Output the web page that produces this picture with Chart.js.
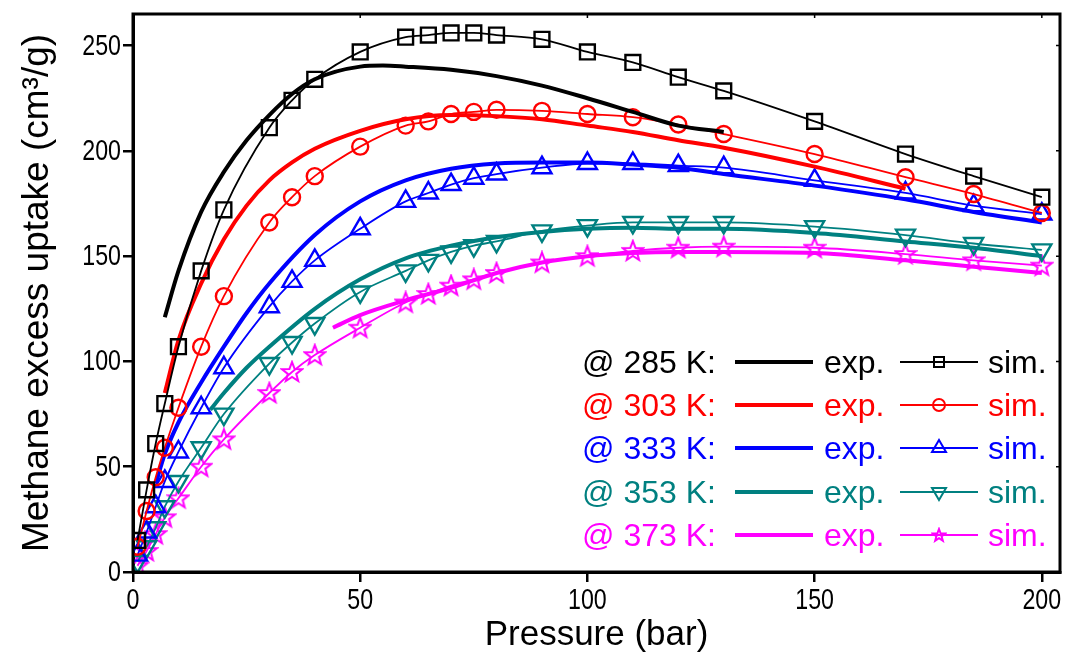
<!DOCTYPE html>
<html>
<head>
<meta charset="utf-8">
<script src="https://cdn.jsdelivr.net/npm/chart.js@4.4.0/dist/chart.umd.min.js"></script>
<style>
  body { margin: 0; background: #fff; }
  #wrap { width: 1070px; height: 653px; }
</style>
</head>
<body>
<div id="wrap"><canvas id="uptake-chart" width="1070" height="653"></canvas></div>
<script>
// ------------------------------------------------------
// @Data
// ------------------------------------------------------
const temps = ['285', '303', '333', '353', '373'];
const colors = ['#000000', '#ff0000', '#0000ff', '#008080', '#ff00ff'];

const pSim = [1, 3, 5, 7, 10, 15, 20, 30, 35, 40, 50, 60, 65, 70, 75, 80, 90, 100, 110, 120, 130, 150, 170, 185, 200];
const sim285 = [15, 39, 61, 80, 107, 143, 172, 211, 224, 234, 247, 254, 255, 256, 256, 255, 253, 247, 242, 235, 228.5, 214, 198.5, 188, 178];
const sim303 = [12, 29, 45, 59, 78, 107, 131, 166, 178, 188, 202, 212, 214, 217.5, 218.5, 219.5, 219, 217.5, 216, 212.5, 208, 198.5, 187.5, 179.5, 170.5];
const sim333 = [8, 19, 31, 43, 57, 78, 97, 126, 138, 148, 163, 176, 180, 184, 187, 189, 192, 194, 194, 193, 192, 186, 180, 174, 170];
const sim353 = [5, 12, 21, 31, 43, 59, 75, 99, 109, 118, 133, 143, 148, 152, 155, 157, 162, 164.5, 166, 166, 166, 164, 160, 156, 153];
const sim373 = [3, 10, 18, 26, 35, 50, 63, 85, 95, 103, 116, 128, 132, 136, 139, 142, 147, 150, 152.5, 154, 154.5, 154, 151, 148, 145.5];

const pExp285 = [7, 10, 15, 20, 25, 30, 35, 40, 50, 55, 60, 70, 80, 90, 100, 110, 120, 130];
const exp285 = [121, 143, 171, 190, 205, 217, 227, 234, 240, 240.5, 240, 238.5, 235.5, 231, 225, 218.5, 212, 209];
const pExp303 = [7, 10, 15, 20, 25, 30, 35, 40, 50, 60, 70, 80, 90, 100, 110, 120, 130, 150, 170];
const exp303 = [85, 110, 137, 158, 174, 186, 194.5, 201, 209.5, 215, 217, 216.5, 215, 212, 209, 205, 201.5, 192.5, 182];
const pExp333 = [5, 7, 10, 15, 20, 25, 30, 40, 50, 60, 70, 80, 90, 100, 110, 120, 130, 150, 170, 185, 200];
const exp333 = [42, 56, 71, 90, 107, 123, 137, 160, 176, 186, 191.5, 194, 194.5, 194.5, 193.5, 192, 189, 183.5, 177, 171, 166];
const pExp353 = [17, 20, 25, 30, 40, 50, 60, 70, 80, 90, 100, 110, 120, 130, 150, 170, 185, 200];
const exp353 = [77, 85, 97, 107, 125, 139, 149, 155, 159, 161.5, 163, 163.5, 163, 163, 161, 157, 154, 150];
const pExp373 = [44, 50, 60, 70, 80, 90, 100, 110, 120, 130, 150, 170, 185, 200];
const exp373 = [116, 122, 129, 135, 142, 147, 150, 151.5, 152, 152, 151.5, 148, 145, 142];

const xTicks = [0, 50, 100, 150, 200];
const yTicks = [0, 50, 100, 150, 200, 250];

// ------------------------------------------------------
// @Helpers
// ------------------------------------------------------
function pairs(xs, ys) {
    return xs.map((x, i) => ({ x: x, y: ys[i] }));
}

function starImage(size, color) {
    let c = document.createElement('canvas');
    c.width = size;
    c.height = size;
    let g = c.getContext('2d');
    let r = size / 2 - 1.5, ri = r * 0.42, cx = size / 2, cy = size / 2 + 0.5;
    g.beginPath();
    for (let i = 0; i < 10; i++) {
        let a = -Math.PI / 2 + i * Math.PI / 5;
        let rr = i % 2 ? ri : r;
        g.lineTo(cx + rr * Math.cos(a), cy + rr * Math.sin(a));
    }
    g.closePath();
    g.strokeStyle = color;
    g.lineWidth = 2;
    g.stroke();
    return c;
}

const bigStar = starImage(24, colors[4]);
const smallStar = starImage(16, colors[4]);

const simSets = [sim285, sim303, sim333, sim353, sim373];
const expX = [pExp285, pExp303, pExp333, pExp353, pExp373];
const expSets = [exp285, exp303, exp333, exp353, exp373];
const markers = [
    { style: 'rect', radius: 10.5, rotation: 0 },
    { style: 'circle', radius: 8, rotation: 0 },
    { style: 'triangle', radius: 11, rotation: 0 },
    { style: 'triangle', radius: 11, rotation: 180 },
    { style: bigStar, radius: 12, rotation: 0 }
];

const fontFamily = '"Liberation Sans", Arial, sans-serif';

let datasets = [];
temps.forEach((t, i) => {
    datasets.push({
        label: '@ ' + t + ' K: exp.',
        data: pairs(expX[i], expSets[i]),
        borderColor: colors[i],
        borderWidth: 4,
        pointRadius: 0,
        cubicInterpolationMode: 'monotone',
        fill: false
    });
    datasets.push({
        label: '@ ' + t + ' K: sim.',
        data: pairs(pSim, simSets[i]),
        borderColor: colors[i],
        borderWidth: 1.8,
        pointStyle: markers[i].style,
        pointRadius: markers[i].radius,
        pointRotation: markers[i].rotation,
        pointBorderColor: colors[i],
        pointBackgroundColor: 'rgba(0,0,0,0)',
        pointBorderWidth: 2.4,
        cubicInterpolationMode: 'monotone',
        fill: false
    });
});

// ------------------------------------------------------
// @Plugins: frame, condensed tick labels, in-plot legend table
// ------------------------------------------------------
const framePlugin = {
    id: 'frame',
    afterDraw(chart) {
        const { ctx, chartArea: a } = chart;
        const xs = chart.scales.x, ys = chart.scales.y;
        ctx.save();
        ctx.strokeStyle = '#000';
        ctx.lineWidth = 3;
        ctx.strokeRect(a.left, a.top, a.right - a.left, a.bottom - a.top);
        ctx.lineWidth = 1.5;
        ctx.beginPath();
        xTicks.slice(1).forEach(v => {
            let px = xs.getPixelForValue(v);
            ctx.moveTo(px, a.top);
            ctx.lineTo(px, a.top + 4);
        });
        yTicks.slice(1).forEach(v => {
            let py = ys.getPixelForValue(v);
            ctx.moveTo(a.right, py);
            ctx.lineTo(a.right - 4, py);
        });
        ctx.stroke();
        ctx.restore();
    }
};

// the reference uses a condensed face; squeeze the regular one horizontally
const tickLabels = {
    id: 'tickLabels',
    afterDraw(chart) {
        const ctx = chart.ctx;
        const xs = chart.scales.x, ys = chart.scales.y;
        const squeeze = 0.8;
        ctx.save();
        ctx.fillStyle = '#000';
        ctx.font = '29px ' + fontFamily;
        ctx.textBaseline = 'middle';
        xTicks.forEach(v => {
            let px = xs.getPixelForValue(v);
            ctx.save();
            ctx.translate(px, xs.bottom - 52);
            ctx.scale(squeeze, 1);
            ctx.textAlign = 'center';
            ctx.fillText(String(v), 0, 0);
            ctx.restore();
        });
        yTicks.forEach(v => {
            let py = ys.getPixelForValue(v);
            ctx.save();
            ctx.translate(ys.right - 12, py + 1);
            ctx.scale(squeeze, 1);
            ctx.textAlign = 'right';
            ctx.fillText(String(v), 0, 0);
            ctx.restore();
        });
        ctx.restore();
    }
};

function legendMarker(ctx, i, x, y) {
    ctx.save();
    ctx.strokeStyle = colors[i];
    ctx.lineWidth = 2;
    ctx.beginPath();
    if (i === 0) {
        ctx.rect(x - 5, y - 5, 10, 10);
        ctx.stroke();
    } else if (i === 1) {
        ctx.arc(x, y, 6, 0, Math.PI * 2);
        ctx.stroke();
    } else if (i === 2 || i === 3) {
        let s = i === 2 ? 1 : -1;
        ctx.moveTo(x, y - 8 * s);
        ctx.lineTo(x + 7, y + 4 * s);
        ctx.lineTo(x - 7, y + 4 * s);
        ctx.closePath();
        ctx.stroke();
    } else {
        ctx.drawImage(smallStar, x - 8, y - 8);
    }
    ctx.restore();
}

const tableLegend = {
    id: 'tableLegend',
    afterDraw(chart) {
        const ctx = chart.ctx;
        const rows = [362, 405, 448, 492, 535];
        ctx.save();
        ctx.font = '32px ' + fontFamily;
        ctx.textBaseline = 'middle';
        ctx.textAlign = 'left';
        temps.forEach((t, i) => {
            let y = rows[i];
            ctx.fillStyle = colors[i];
            ctx.fillText('@ ' + t + ' K:', 582, y + 2);
            ctx.strokeStyle = colors[i];
            ctx.lineWidth = 4;
            ctx.beginPath();
            ctx.moveTo(735, y);
            ctx.lineTo(813, y);
            ctx.stroke();
            ctx.fillText('exp.', 824, y + 2);
            ctx.lineWidth = 1.8;
            ctx.beginPath();
            ctx.moveTo(900, y);
            ctx.lineTo(978, y);
            ctx.stroke();
            legendMarker(ctx, i, 939, y);
            ctx.fillText('sim.', 988, y + 2);
        });
        ctx.restore();
    }
};

// ------------------------------------------------------
// @Chart
// ------------------------------------------------------
let box = document.getElementById('uptake-chart');
let ctx = box.getContext('2d');

new Chart(ctx, {
    type: 'line',
    data: { datasets: datasets },
    options: {
        responsive: false,
        animation: false,
        devicePixelRatio: 1,
        layout: { autoPadding: false, padding: { top: 14, right: 10, left: 0, bottom: 0 } },
        plugins: {
            legend: { display: false },
            tooltip: { enabled: false }
        },
        scales: {
            x: {
                type: 'linear',
                min: 0,
                max: 204,
                afterFit: s => { s.height = 81; s.paddingLeft = 0; s.paddingRight = 0; },
                afterBuildTicks: s => { s.ticks = xTicks.map(v => ({ value: v })); },
                grid: { drawOnChartArea: false, drawTicks: true, tickLength: 10, color: '#000', lineWidth: 2.5 },
                border: { display: true, color: '#000', width: 3 },
                ticks: { display: false },
                title: {
                    display: true,
                    text: 'Pressure (bar)',
                    color: '#000',
                    padding: { top: 0, bottom: -3 },
                    font: { family: fontFamily, size: 35 }
                }
            },
            y: {
                min: 0,
                max: 265,
                afterFit: s => { s.width = 133; s.paddingTop = 0; s.paddingBottom = 0; },
                afterBuildTicks: s => { s.ticks = yTicks.map(v => ({ value: v })); },
                grid: { drawOnChartArea: false, drawTicks: true, tickLength: 10, color: '#000', lineWidth: 2.5 },
                border: { display: true, color: '#000', width: 3 },
                ticks: { display: false },
                title: {
                    display: true,
                    text: 'Methane excess uptake (cm³/g)',
                    color: '#000',
                    padding: { top: 16, bottom: 0 },
                    font: { family: fontFamily, size: 37 }
                }
            }
        }
    },
    plugins: [framePlugin, tickLabels, tableLegend]
});
</script>
</body>
</html>
